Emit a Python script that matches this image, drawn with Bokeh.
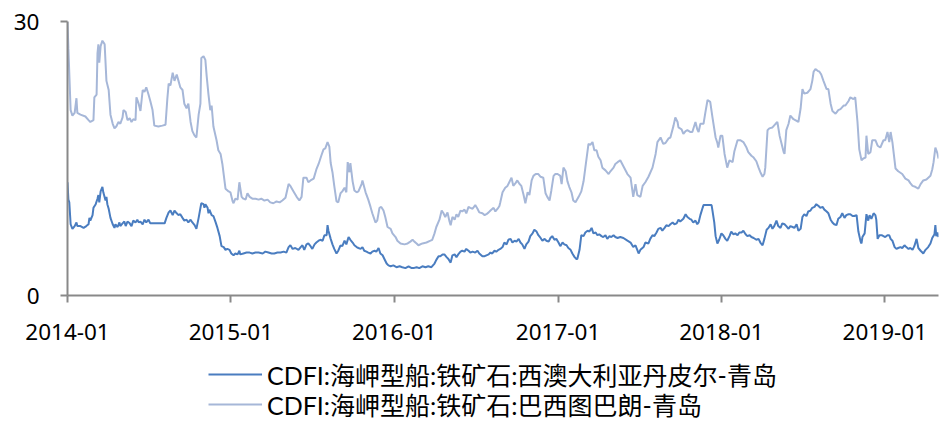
import pandas as pd
from bokeh.plotting import figure
from bokeh.layouts import column
from bokeh.models import Range1d, FixedTicker, DatetimeTickFormatter, Legend, LegendItem
from bokeh.embed import file_html
from bokeh.resources import INLINE

# ---------------- data ----------------
base_date = "2014-01-01"
end_date = "2019-05-01"
series_names = ["CDFI:海岬型船:铁矿石:西澳大利亚丹皮尔-青岛",
                "CDFI:海岬型船:铁矿石:巴西图巴朗-青岛"]
x_tick_labels = ["2014-01", "2015-01", "2016-01", "2017-01", "2018-01", "2019-01"]
y_ticks = [0, 30]

# West Australia (Dampier) - Qingdao : days since base_date, USD/t
au_days = [0, 2, 4, 7, 11, 16, 20, 22, 29, 36, 42, 47, 49, 51, 56, 58, 63, 67, 69, 71, 74, 78, 80, 85, 87, 89, 92, 96,
           101, 105, 107, 112, 116, 118, 123, 127, 130, 134, 139, 143, 147, 152, 156, 159, 163, 168, 172, 176, 181, 185,
           190, 197, 203, 210, 217, 221, 226, 230, 235, 239, 244, 248, 252, 257, 261, 266, 270, 275, 279, 284, 288, 293,
           297, 299, 304, 306, 308, 313, 315, 317, 322, 326, 331, 335, 340, 344, 349, 353, 357, 362, 366, 371, 375, 380,
           384, 386, 393, 400, 407, 413, 420, 427, 436, 442, 449, 456, 462, 469, 476, 483, 489, 494, 498, 503, 509, 516,
           521, 525, 529, 534, 538, 543, 547, 552, 556, 561, 565, 570, 574, 579, 581, 583, 588, 592, 596, 601, 605, 610,
           614, 619, 623, 628, 632, 637, 641, 646, 650, 655, 659, 663, 668, 672, 677, 681, 686, 690, 695, 699, 704, 708,
           713, 717, 722, 728, 735, 742, 748, 755, 762, 769, 773, 780, 786, 793, 800, 806, 813, 820, 824, 829, 833, 838,
           842, 847, 851, 856, 860, 865, 869, 873, 878, 882, 887, 891, 896, 900, 905, 911, 916, 920, 927, 932, 936, 941,
           945, 949, 954, 958, 963, 967, 972, 976, 981, 985, 990, 994, 999, 1003, 1008, 1012, 1016, 1021, 1025, 1030,
           1034, 1039, 1043, 1048, 1052, 1057, 1061, 1066, 1070, 1075, 1079, 1083, 1088, 1092, 1097, 1101, 1106, 1110,
           1115, 1119, 1124, 1128, 1133, 1137, 1139, 1144, 1148, 1153, 1157, 1162, 1166, 1171, 1175, 1180, 1184, 1188,
           1193, 1197, 1202, 1206, 1211, 1215, 1220, 1224, 1229, 1235, 1242, 1251, 1258, 1264, 1269, 1273, 1276, 1280,
           1287, 1291, 1298, 1302, 1307, 1311, 1316, 1320, 1325, 1329, 1334, 1338, 1343, 1347, 1352, 1356, 1361, 1365,
           1369, 1376, 1381, 1385, 1390, 1394, 1398, 1403, 1407, 1410, 1414, 1419, 1421, 1428, 1434, 1439, 1441, 1445,
           1448, 1452, 1456, 1461, 1465, 1470, 1474, 1479, 1483, 1488, 1492, 1497, 1501, 1506, 1510, 1515, 1519, 1524,
           1528, 1533, 1539, 1544, 1548, 1553, 1557, 1562, 1566, 1571, 1575, 1579, 1584, 1588, 1593, 1597, 1602, 1606,
           1611, 1615, 1620, 1624, 1629, 1633, 1638, 1642, 1646, 1651, 1655, 1660, 1664, 1669, 1673, 1678, 1682, 1687,
           1691, 1696, 1700, 1705, 1709, 1713, 1718, 1722, 1727, 1731, 1736, 1740, 1745, 1749, 1754, 1758, 1763, 1767,
           1772, 1774, 1776, 1781, 1785, 1789, 1792, 1796, 1801, 1805, 1807, 1810, 1814, 1819, 1823, 1827, 1832, 1836,
           1839, 1843, 1848, 1852, 1856, 1861, 1865, 1870, 1874, 1879, 1883, 1888, 1892, 1897, 1901, 1906, 1910, 1912,
           1917, 1923, 1928, 1932, 1937, 1939, 1941, 1944, 1946]
au_vals = [12.4, 10.5, 10.2, 7.8, 7.3, 7.6, 8.0, 7.6, 7.6, 7.4, 7.6, 7.8, 8.5, 8.2, 8.8, 9.6, 10.0, 10.6, 11.0, 10.2,
           11.4, 11.9, 11.3, 10.4, 10.8, 10.0, 9.5, 8.5, 7.8, 7.4, 7.8, 7.5, 8.0, 7.6, 7.9, 8.1, 7.6, 8.1, 7.9, 7.6, 8.2,
           8.0, 8.3, 8.0, 8.1, 7.8, 8.3, 8.0, 8.3, 7.9, 7.9, 7.9, 7.9, 7.9, 7.9, 8.5, 9.1, 9.3, 8.8, 9.3, 9.0, 8.8, 8.9,
           8.5, 8.2, 8.3, 8.0, 8.3, 8.0, 7.7, 7.3, 8.5, 9.6, 10.1, 10.0, 9.6, 10.0, 9.6, 9.0, 9.4, 8.8, 8.7, 8.0, 7.4,
           6.5, 5.4, 5.3, 5.0, 5.1, 5.0, 4.6, 4.4, 4.6, 4.5, 4.9, 4.5, 4.6, 4.7, 4.7, 4.6, 4.7, 4.7, 4.6, 4.8, 4.7, 4.6,
           4.6, 4.7, 4.7, 4.8, 4.7, 5.3, 5.5, 5.1, 5.2, 5.0, 5.3, 5.5, 5.0, 5.6, 5.7, 5.4, 5.1, 5.6, 5.8, 6.0, 6.1, 6.0,
           6.6, 6.6, 7.7, 7.1, 6.2, 5.6, 5.1, 4.6, 4.9, 5.5, 5.4, 6.0, 5.6, 6.4, 6.1, 5.8, 5.5, 5.3, 5.2, 5.1, 5.3, 4.9,
           4.8, 4.7, 4.6, 4.8, 4.9, 4.8, 5.2, 4.6, 4.4, 4.0, 3.5, 3.3, 3.2, 3.3, 3.1, 3.2, 3.1, 3.0, 3.2, 3.0, 3.0, 3.1,
           3.0, 3.2, 3.1, 3.2, 3.1, 3.5, 3.9, 4.3, 4.3, 4.5, 4.5, 4.2, 4.0, 3.6, 4.4, 4.5, 4.2, 4.5, 4.8, 4.9, 4.8, 5.1,
           4.9, 4.7, 4.8, 4.7, 4.9, 4.6, 4.3, 4.3, 4.4, 4.5, 4.7, 4.6, 4.9, 4.8, 5.0, 5.1, 5.3, 5.8, 5.6, 6.1, 6.2, 5.8,
           6.0, 5.9, 6.2, 5.8, 5.6, 5.1, 5.6, 5.9, 6.5, 6.8, 7.2, 7.0, 6.6, 6.3, 6.0, 6.2, 6.0, 5.9, 6.3, 6.5, 6.1, 6.2,
           5.8, 5.4, 5.8, 5.6, 5.5, 5.2, 5.0, 4.6, 4.2, 4.0, 4.0, 5.0, 6.6, 6.5, 6.9, 7.1, 7.0, 7.4, 6.8, 6.9, 6.6, 6.7,
           6.5, 6.4, 6.6, 6.2, 6.5, 6.4, 6.6, 6.4, 6.3, 6.4, 6.3, 6.0, 5.8, 5.3, 5.5, 5.0, 4.6, 5.0, 5.3, 5.8, 5.7, 6.2,
           6.6, 6.5, 6.9, 7.3, 7.4, 7.1, 7.4, 7.7, 7.6, 7.8, 8.0, 7.8, 7.9, 8.3, 8.1, 8.4, 8.9, 8.6, 8.4, 8.3, 8.0, 8.2,
           7.8, 8.0, 8.8, 9.6, 9.9, 9.9, 9.9, 9.9, 9.3, 8.0, 6.5, 5.7, 6.1, 6.8, 6.6, 6.2, 6.0, 6.5, 7.0, 6.7, 6.8, 6.6,
           6.9, 6.9, 7.1, 6.7, 6.5, 6.6, 6.4, 6.3, 6.1, 6.2, 5.8, 5.5, 6.2, 7.2, 7.4, 7.8, 7.3, 7.6, 8.2, 7.6, 7.4, 7.9,
           7.8, 7.6, 7.3, 7.6, 7.5, 7.4, 7.8, 7.1, 7.3, 8.6, 8.9, 8.7, 9.2, 9.3, 9.6, 9.7, 10.0, 9.8, 9.6, 9.7, 9.4, 9.2,
           9.0, 8.3, 8.0, 7.8, 7.7, 8.4, 8.6, 9.0, 8.5, 8.8, 8.9, 8.9, 8.7, 8.7, 8.8, 7.0, 5.9, 5.7, 6.4, 6.8, 8.9, 8.2,
           8.8, 8.4, 9.0, 8.8, 8.3, 6.2, 6.6, 6.6, 6.5, 6.4, 6.6, 6.6, 6.2, 6.0, 5.3, 5.1, 5.2, 5.3, 5.2, 5.5, 5.3, 5.1,
           5.2, 5.0, 5.4, 6.2, 5.2, 4.9, 4.7, 4.6, 5.0, 5.3, 5.7, 6.3, 6.7, 7.7, 6.5, 6.9, 6.4]

# Brazil (Tubarao) - Qingdao : days since base_date, USD/t
br_days = [0, 2, 7, 11, 16, 20, 22, 29, 40, 47, 51, 58, 60, 65, 67, 69, 71, 74, 78, 83, 87, 92, 96, 101, 105, 109, 114,
           118, 123, 125, 130, 134, 139, 143, 147, 152, 154, 159, 163, 168, 172, 176, 181, 185, 190, 194, 203, 212, 219,
           223, 226, 230, 235, 239, 244, 248, 252, 257, 261, 266, 270, 275, 279, 284, 288, 293, 297, 299, 304, 308, 311,
           315, 319, 322, 326, 333, 337, 342, 346, 353, 360, 364, 369, 371, 375, 380, 384, 389, 393, 398, 402, 407, 413,
           420, 427, 433, 440, 447, 453, 460, 467, 474, 480, 487, 494, 498, 505, 512, 518, 523, 527, 534, 538, 543, 550,
           556, 561, 567, 572, 576, 581, 585, 588, 592, 596, 601, 605, 610, 614, 619, 623, 626, 630, 632, 637, 641, 646,
           650, 657, 659, 666, 672, 677, 681, 688, 692, 697, 701, 706, 710, 715, 722, 726, 733, 737, 744, 753, 760, 766,
           771, 775, 780, 784, 793, 802, 811, 815, 820, 824, 831, 836, 840, 844, 849, 853, 856, 860, 865, 869, 873, 878,
           882, 887, 891, 896, 900, 905, 911, 916, 920, 927, 932, 936, 941, 945, 952, 956, 961, 965, 967, 972, 978, 983,
           987, 992, 996, 1001, 1005, 1010, 1014, 1019, 1023, 1028, 1032, 1037, 1041, 1046, 1052, 1057, 1063, 1068,
           1072, 1077, 1081, 1086, 1090, 1095, 1101, 1104, 1108, 1113, 1117, 1121, 1126, 1130, 1135, 1142, 1148, 1153,
           1157, 1164, 1168, 1173, 1177, 1182, 1186, 1191, 1195, 1202, 1209, 1213, 1220, 1224, 1229, 1235, 1251, 1258,
           1264, 1269, 1273, 1280, 1285, 1291, 1298, 1307, 1314, 1318, 1325, 1331, 1336, 1343, 1347, 1354, 1358, 1363,
           1365, 1372, 1376, 1381, 1385, 1392, 1396, 1403, 1407, 1410, 1414, 1421, 1425, 1430, 1436, 1441, 1448, 1452,
           1454, 1459, 1463, 1468, 1474, 1479, 1486, 1490, 1497, 1503, 1510, 1517, 1521, 1528, 1533, 1539, 1544, 1548,
           1553, 1557, 1559, 1564, 1568, 1575, 1582, 1586, 1591, 1595, 1600, 1602, 1606, 1611, 1615, 1622, 1626, 1633,
           1638, 1642, 1646, 1653, 1660, 1664, 1667, 1671, 1676, 1680, 1684, 1689, 1696, 1700, 1705, 1709, 1716, 1722,
           1727, 1734, 1738, 1745, 1749, 1756, 1760, 1765, 1769, 1774, 1778, 1783, 1785, 1789, 1794, 1798, 1805, 1810,
           1816, 1823, 1827, 1832, 1836, 1839, 1843, 1850, 1856, 1865, 1872, 1879, 1883, 1888, 1894, 1901, 1906, 1912,
           1919, 1928, 1932, 1935, 1939, 1944, 1946]
br_vals = [30.0, 27.0, 20.3, 19.7, 20.0, 21.6, 20.0, 19.8, 19.6, 19.2, 19.0, 19.2, 21.7, 22.0, 26.5, 27.5, 25.5, 27.3,
           27.9, 27.5, 23.5, 22.5, 19.8, 18.8, 18.3, 18.5, 19.0, 18.8, 19.5, 20.3, 20.1, 19.2, 19.4, 19.0, 19.3, 19.2,
           21.7, 21.0, 20.2, 22.5, 22.3, 22.8, 22.0, 21.3, 20.3, 18.6, 18.5, 18.6, 18.7, 21.5, 23.2, 23.0, 24.4, 23.5,
           24.2, 23.5, 22.8, 22.5, 21.0, 20.5, 21.0, 19.0, 18.0, 17.5, 17.3, 19.8, 21.0, 26.0, 26.2, 25.8, 24.0, 22.0,
           20.3, 20.8, 18.5, 17.0, 15.9, 15.5, 14.4, 11.7, 11.4, 11.3, 10.3, 10.1, 10.6, 10.5, 12.4, 10.8, 10.6, 10.5,
           11.2, 10.8, 10.6, 10.6, 10.5, 10.6, 10.4, 10.5, 10.2, 10.1, 10.3, 10.2, 10.4, 10.7, 12.2, 12.0, 11.4, 10.8,
           10.4, 10.8, 12.9, 12.9, 12.4, 12.6, 12.8, 13.8, 14.4, 15.3, 16.0, 16.1, 16.8, 16.3, 14.5, 13.5, 12.0, 10.3,
           10.2, 11.2, 11.4, 11.8, 11.3, 14.6, 13.5, 14.5, 12.5, 11.5, 11.3, 11.4, 12.2, 12.6, 11.3, 10.5, 9.7, 9.0, 8.0,
           8.2, 9.6, 9.7, 9.3, 8.6, 7.5, 7.3, 6.8, 6.4, 6.0, 5.7, 5.6, 5.7, 5.9, 6.1, 5.9, 5.7, 5.5, 5.7, 5.8, 6.0, 6.1,
           6.8, 7.5, 8.3, 9.3, 9.0, 8.6, 9.1, 8.2, 7.7, 8.6, 8.3, 8.9, 8.6, 9.3, 9.2, 9.4, 9.0, 9.7, 9.6, 9.5, 9.9, 9.5,
           9.1, 9.0, 8.8, 8.9, 9.1, 9.3, 9.6, 9.2, 9.5, 9.8, 10.2, 11.3, 11.8, 12.0, 12.4, 12.9, 12.0, 12.3, 12.6, 12.2,
           12.0, 11.0, 10.1, 11.3, 11.0, 12.6, 13.1, 13.3, 13.3, 13.0, 12.9, 11.2, 10.8, 10.4, 11.5, 13.1, 13.3, 13.3,
           13.1, 12.2, 14.0, 13.6, 12.5, 11.9, 11.3, 10.4, 10.2, 10.8, 11.4, 12.5, 14.0, 16.6, 16.5, 16.8, 15.9, 15.9,
           15.2, 14.8, 14.0, 13.7, 13.3, 13.6, 14.0, 14.4, 14.6, 14.8, 13.3, 12.9, 10.8, 12.2, 11.0, 10.8, 12.0, 12.4,
           13.0, 14.0, 15.5, 16.8, 17.3, 16.6, 16.7, 17.2, 17.3, 18.6, 19.5, 19.0, 18.4, 18.2, 17.7, 18.0, 18.1, 17.9,
           17.9, 19.0, 18.2, 17.9, 18.8, 18.8, 20.0, 21.4, 21.2, 19.5, 17.3, 16.7, 16.2, 17.5, 17.5, 15.5, 14.0, 14.8,
           14.6, 15.8, 17.0, 17.0, 16.8, 16.2, 15.7, 15.3, 15.1, 14.7, 14.0, 13.5, 13.0, 13.3, 14.0, 18.1, 18.3, 18.4,
           18.8, 19.0, 17.5, 16.7, 15.7, 15.5, 18.1, 18.8, 19.7, 19.3, 19.2, 19.0, 20.5, 22.6, 22.1, 22.2, 22.6, 23.5,
           24.5, 24.8, 24.6, 24.5, 24.2, 23.5, 22.6, 22.6, 21.0, 20.2, 19.9, 20.3, 20.4, 20.8, 20.8, 21.3, 21.7, 21.5,
           21.7, 19.0, 16.0, 14.8, 15.0, 15.1, 17.5, 15.5, 15.7, 17.0, 17.0, 16.4, 16.2, 17.0, 17.0, 17.9, 16.8, 17.9,
           16.8, 13.9, 13.6, 13.3, 12.8, 12.6, 12.3, 12.0, 11.9, 11.7, 12.2, 12.6, 12.7, 13.1, 13.8, 14.6, 16.2, 15.5,
           15.0]

# ---------------- build ----------------
base = pd.Timestamp(base_date)
au_dates = [base + pd.Timedelta(days=d) for d in au_days]
br_dates = [base + pd.Timedelta(days=d) for d in br_days]
au_color = "#4A7DC0"
br_color = "#A6B7D8"


def ms(ts):
    return pd.Timestamp(ts).value // 10**6


p = figure(width=947, height=360, x_axis_type="datetime", output_backend="svg",
           toolbar_location=None, min_border_left=67, min_border_right=9,
           min_border_top=21, min_border_bottom=65,
           x_range=Range1d(ms(base_date), ms(end_date)), y_range=Range1d(0, 30))
p.outline_line_color = None
p.grid.grid_line_color = None
p.background_fill_color = "white"
p.border_fill_color = "white"

p.line(au_dates, au_vals, line_color=au_color, line_width=2)
p.line(br_dates, br_vals, line_color=br_color, line_width=2)

axis_color = "#898989"
for ax in (p.xaxis[0], p.yaxis[0]):
    ax.axis_line_color = axis_color
    ax.axis_line_width = 2
    ax.major_tick_line_color = axis_color
    ax.major_tick_line_width = 2
    ax.major_tick_in = 0
    ax.major_tick_out = 7
    ax.minor_tick_line_color = None
    ax.major_label_text_font = "Noto Sans"
    ax.major_label_text_font_size = "22.5px"
    ax.major_label_text_color = "#000000"

p.xaxis[0].ticker = FixedTicker(ticks=[ms(t + "-01") for t in x_tick_labels])
p.xaxis[0].formatter = DatetimeTickFormatter(years="%Y-%m", months="%Y-%m", days="%Y-%m",
                                             hours="%Y-%m", hourmin="%Y-%m", minutes="%Y-%m",
                                             minsec="%Y-%m", seconds="%Y-%m", milliseconds="%Y-%m",
                                             microseconds="%Y-%m")
p.xaxis[0].major_label_standoff = 21
p.yaxis[0].ticker = FixedTicker(ticks=y_ticks)
p.yaxis[0].major_label_standoff = 21

# ---- legend strip below the chart (series drawn out of view, only keys show) ----
lg = figure(width=947, height=62, output_backend="svg", toolbar_location=None,
            x_axis_type="datetime", x_axis_location=None, y_axis_location=None,
            min_border_left=0, min_border_right=0, min_border_top=0, min_border_bottom=0,
            x_range=Range1d(ms(base_date), ms(end_date)), y_range=Range1d(100, 101))
lg.outline_line_color = None
lg.grid.grid_line_color = None
lg.border_fill_color = "white"
lk_au = lg.line(au_dates, au_vals, line_color=au_color, line_width=2)
lk_br = lg.line(br_dates, br_vals, line_color=br_color, line_width=2)


def make_legend(label, renderer, bottom):
    lgd = Legend(items=[LegendItem(label=label, renderers=[renderer])], location=(141, bottom))
    lgd.label_text_font = "Lato, 'Noto Sans CJK SC'"
    lgd.label_text_font_size = "25px"
    lgd.label_text_color = "#000000"
    lgd.glyph_width = 54
    lgd.glyph_height = 28
    lgd.label_height = 28
    lgd.label_standoff = 5
    lgd.spacing = 0
    lgd.padding = 0
    lgd.margin = 0
    lgd.border_line_alpha = 0
    lgd.background_fill_alpha = 0
    return lgd


lg.add_layout(make_legend(series_names[0], lk_au, 30))
lg.add_layout(make_legend(series_names[1], lk_br, 0))

layout = column(p, lg, spacing=0)
open("out.html", "w").write(file_html(layout, INLINE))
